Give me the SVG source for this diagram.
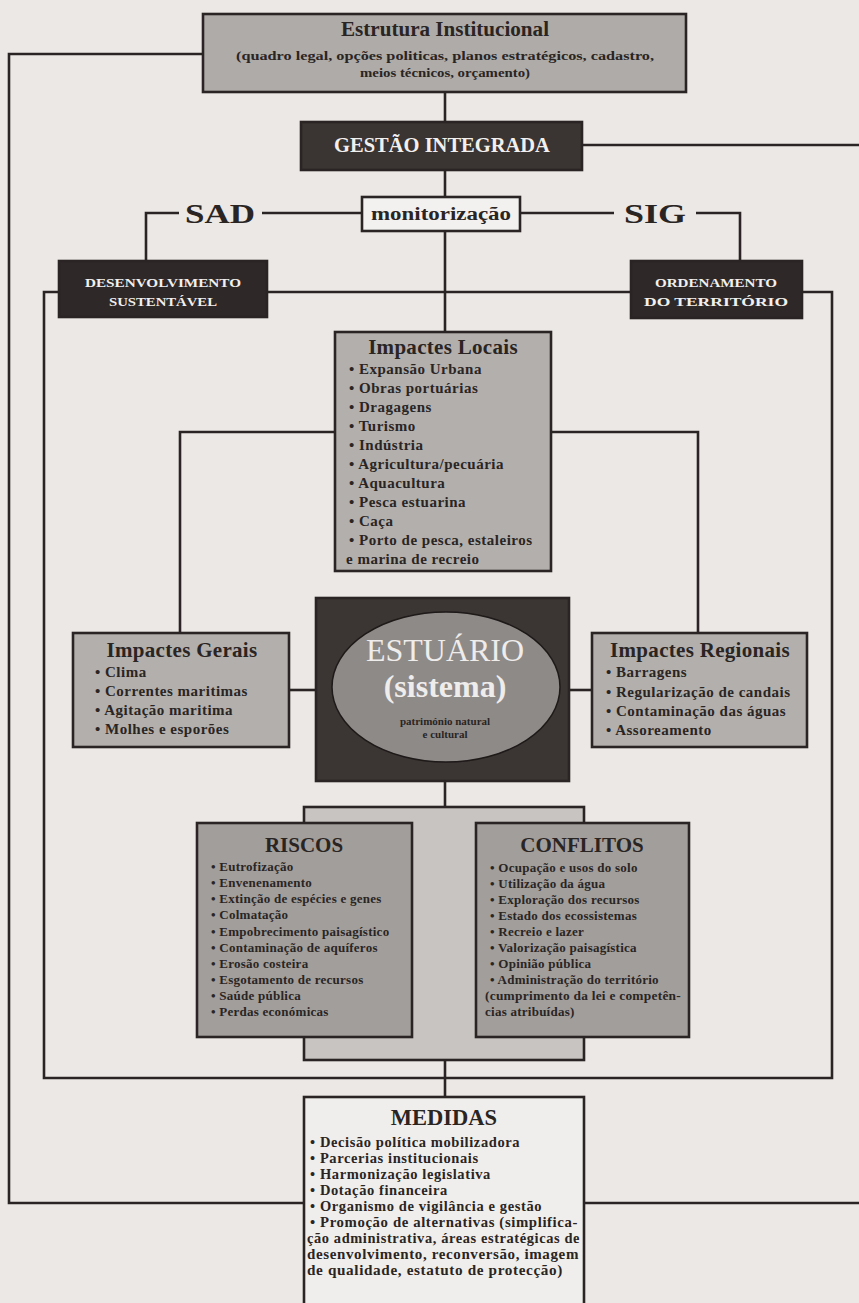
<svg xmlns="http://www.w3.org/2000/svg" width="859" height="1303" viewBox="0 0 859 1303">
<defs>
<style>
.ln{fill:none;stroke:#2a2524;stroke-width:2.6}
.bx{stroke:#2a2524;stroke-width:2.6}
.grey{fill:#b2afad}
.dgrey{fill:#a19e9c}
.dark{fill:#3a3432}
.t{font-family:"Liberation Serif","Times New Roman",serif;font-weight:bold;fill:#2a2523}
.w{fill:#f2f0ee}
.c{text-anchor:middle}
.it{font-size:15px;letter-spacing:0.5px}
.hd{font-size:21px;letter-spacing:0.3px}
.sm{font-size:13px;letter-spacing:0.25px}
.md{font-size:14.5px;letter-spacing:0.6px}
</style>
</defs>
<rect x="0" y="0" width="859" height="1303" fill="#ebe8e6"/>

<g id="connectors">
<path class="ln" d="M203,54 H9 V1203 H304"/>
<path class="ln" d="M582,145 H866 V1203 H584"/>
<path class="ln" d="M445,92 V122"/>
<path class="ln" d="M445,170 V197"/>
<path class="ln" d="M362,213 H262"/>
<path class="ln" d="M179,213 H146 V261"/>
<path class="ln" d="M520,213 H614"/>
<path class="ln" d="M696,213 H740 V261"/>
<path class="ln" d="M445,231 V332"/>
<path class="ln" d="M44,292 H832 V1078 H44 Z"/>
<path class="ln" d="M335,432 H180 V633"/>
<path class="ln" d="M551,432 H698 V633"/>
<path class="ln" d="M289,690 H316"/>
<path class="ln" d="M569,690 H592"/>
<path class="ln" d="M445,781 V807"/>
<path class="ln" d="M445,1060 V1097"/>
</g>

<g id="estrutura">
<rect class="bx" x="203" y="14" width="483" height="78" fill="#aeaba9"/>
<text class="t c" x="445" y="36" font-size="20" textLength="208" lengthAdjust="spacingAndGlyphs">Estrutura Institucional</text>
<text class="t c" x="445" y="60" font-size="13.5" textLength="418" lengthAdjust="spacingAndGlyphs">(quadro legal, opções politicas, planos estratégicos, cadastro,</text>
<text class="t c" x="445" y="77" font-size="13.5" textLength="170" lengthAdjust="spacingAndGlyphs">meios técnicos, orçamento)</text>
</g>

<g id="gestao">
<rect class="bx dark" x="301" y="122" width="281" height="48"/>
<text class="t c w" x="442" y="152" font-size="20.5">GESTÃO INTEGRADA</text>
</g>

<g id="monitorizacao">
<rect class="bx" x="362" y="197" width="158" height="34" fill="#f3f1f0"/>
<text class="t c" x="441" y="220" font-size="18" textLength="140" lengthAdjust="spacingAndGlyphs">monitorização</text>
</g>

<g id="sad">
<text class="t c" x="220" y="223" font-size="27" textLength="70" lengthAdjust="spacingAndGlyphs">SAD</text>
</g>

<g id="sig">
<text class="t c" x="655" y="223" font-size="27" textLength="62" lengthAdjust="spacingAndGlyphs">SIG</text>
</g>

<g id="desenvolvimento">
<rect class="bx" x="59" y="261" width="208" height="56" fill="#2e2928"/>
<text class="t c w" x="163" y="287" font-size="13.5" textLength="156" lengthAdjust="spacingAndGlyphs">DESENVOLVIMENTO</text>
<text class="t c w" x="163" y="306" font-size="13.5" textLength="108" lengthAdjust="spacingAndGlyphs">SUSTENTÁVEL</text>
</g>

<g id="ordenamento">
<rect class="bx" x="631" y="261" width="171" height="57" fill="#2e2928"/>
<text class="t c w" x="716" y="287" font-size="13.5" textLength="122" lengthAdjust="spacingAndGlyphs">ORDENAMENTO</text>
<text class="t c w" x="716" y="306" font-size="13.5" textLength="144" lengthAdjust="spacingAndGlyphs">DO TERRITÓRIO</text>
</g>

<g id="impactes-locais">
<rect class="bx grey" x="335" y="332" width="216" height="239"/>
<text class="t c hd" x="443" y="354">Impactes Locais</text>
<text class="t it" x="349" y="374">• Expansão Urbana</text>
<text class="t it" x="349" y="393">• Obras portuárias</text>
<text class="t it" x="349" y="412">• Dragagens</text>
<text class="t it" x="349" y="431">• Turismo</text>
<text class="t it" x="349" y="450">• Indústria</text>
<text class="t it" x="349" y="469">• Agricultura/pecuária</text>
<text class="t it" x="349" y="488">• Aquacultura</text>
<text class="t it" x="349" y="507">• Pesca estuarina</text>
<text class="t it" x="349" y="526">• Caça</text>
<text class="t it" x="349" y="545">• Porto de pesca, estaleiros</text>
<text class="t it" x="346" y="564">e marina de recreio</text>
</g>

<g id="impactes-gerais">
<rect class="bx grey" x="73" y="633" width="216" height="114"/>
<text class="t c hd" x="182" y="657">Impactes Gerais</text>
<text class="t it" x="95" y="677">• Clima</text>
<text class="t it" x="95" y="696">• Correntes maritimas</text>
<text class="t it" x="95" y="715">• Agitação maritima</text>
<text class="t it" x="95" y="734">• Molhes e esporões</text>
</g>

<g id="estuario">
<rect class="bx" x="316" y="598" width="253" height="183" fill="#3b3533"/>
<ellipse cx="446" cy="687" rx="114" ry="75" fill="#8e8a88" stroke="#1e1a19" stroke-width="1.5"/>
<text class="c" x="445" y="661" font-family="Liberation Serif, serif" font-size="32" fill="#efedec">ESTUÁRIO</text>
<text class="t c" x="445" y="697" font-size="32" style="fill:#efedec">(sistema)</text>
<text class="t c" x="445" y="725" font-size="11">património natural</text>
<text class="t c" x="445" y="738" font-size="11">e cultural</text>
</g>

<g id="impactes-regionais">
<rect class="bx grey" x="592" y="633" width="215" height="114"/>
<text class="t c hd" x="700" y="657">Impactes Regionais</text>
<text class="t it" x="606" y="677">• Barragens</text>
<text class="t it" x="606" y="697">• Regularização de candais</text>
<text class="t it" x="606" y="716">• Contaminação das águas</text>
<text class="t it" x="606" y="735">• Assoreamento</text>
</g>

<g id="riscos-conflitos">
<rect class="bx" x="304" y="807" width="280" height="253" fill="#c7c4c2"/>
</g>

<g id="riscos">
<rect class="bx dgrey" x="197" y="823" width="215" height="214"/>
<text class="t c" x="304" y="852" font-size="21">RISCOS</text>
<text class="t sm" x="211" y="871">• Eutrofização</text>
<text class="t sm" x="211" y="887">• Envenenamento</text>
<text class="t sm" x="211" y="903">• Extinção de espécies e genes</text>
<text class="t sm" x="211" y="919">• Colmatação</text>
<text class="t sm" x="211" y="936">• Empobrecimento paisagístico</text>
<text class="t sm" x="211" y="952">• Contaminação de aquíferos</text>
<text class="t sm" x="211" y="968">• Erosão costeira</text>
<text class="t sm" x="211" y="984">• Esgotamento de recursos</text>
<text class="t sm" x="211" y="1000">• Saúde pública</text>
<text class="t sm" x="211" y="1016">• Perdas económicas</text>
</g>

<g id="conflitos">
<rect class="bx dgrey" x="476" y="823" width="213" height="214"/>
<text class="t c" x="582" y="852" font-size="21">CONFLITOS</text>
<text class="t sm" x="490" y="872">• Ocupação e usos do solo</text>
<text class="t sm" x="490" y="888">• Utilização da água</text>
<text class="t sm" x="490" y="904">• Exploração dos recursos</text>
<text class="t sm" x="490" y="920">• Estado dos ecossistemas</text>
<text class="t sm" x="490" y="936">• Recreio e lazer</text>
<text class="t sm" x="490" y="952">• Valorização paisagística</text>
<text class="t sm" x="490" y="968">• Opinião pública</text>
<text class="t sm" x="490" y="984">• Administração do território</text>
<text class="t sm" x="485" y="1000" textLength="196" lengthAdjust="spacingAndGlyphs">(cumprimento da lei e competên-</text>
<text class="t sm" x="485" y="1016">cias atribuídas)</text>
</g>

<g id="medidas">
<rect class="bx" x="304" y="1097" width="280" height="215" fill="#f0eeec"/>
<text class="t c" x="444" y="1125" font-size="22.5">MEDIDAS</text>
<text class="t md" x="310" y="1147">• Decisão política mobilizadora</text>
<text class="t md" x="310" y="1163">• Parcerias institucionais</text>
<text class="t md" x="310" y="1179">• Harmonização legislativa</text>
<text class="t md" x="310" y="1195">• Dotação financeira</text>
<text class="t md" x="310" y="1211">• Organismo de vigilância e gestão</text>
<text class="t md" x="310" y="1227" textLength="268" lengthAdjust="spacingAndGlyphs">• Promoção de alternativas (simplifica-</text>
<text class="t md" x="307" y="1243" textLength="273" lengthAdjust="spacingAndGlyphs">ção administrativa, áreas estratégicas de</text>
<text class="t md" x="307" y="1259" textLength="272" lengthAdjust="spacingAndGlyphs">desenvolvimento, reconversão, imagem</text>
<text class="t md" x="307" y="1275" textLength="256" lengthAdjust="spacingAndGlyphs">de qualidade, estatuto de protecção)</text>
</g>
</svg>
